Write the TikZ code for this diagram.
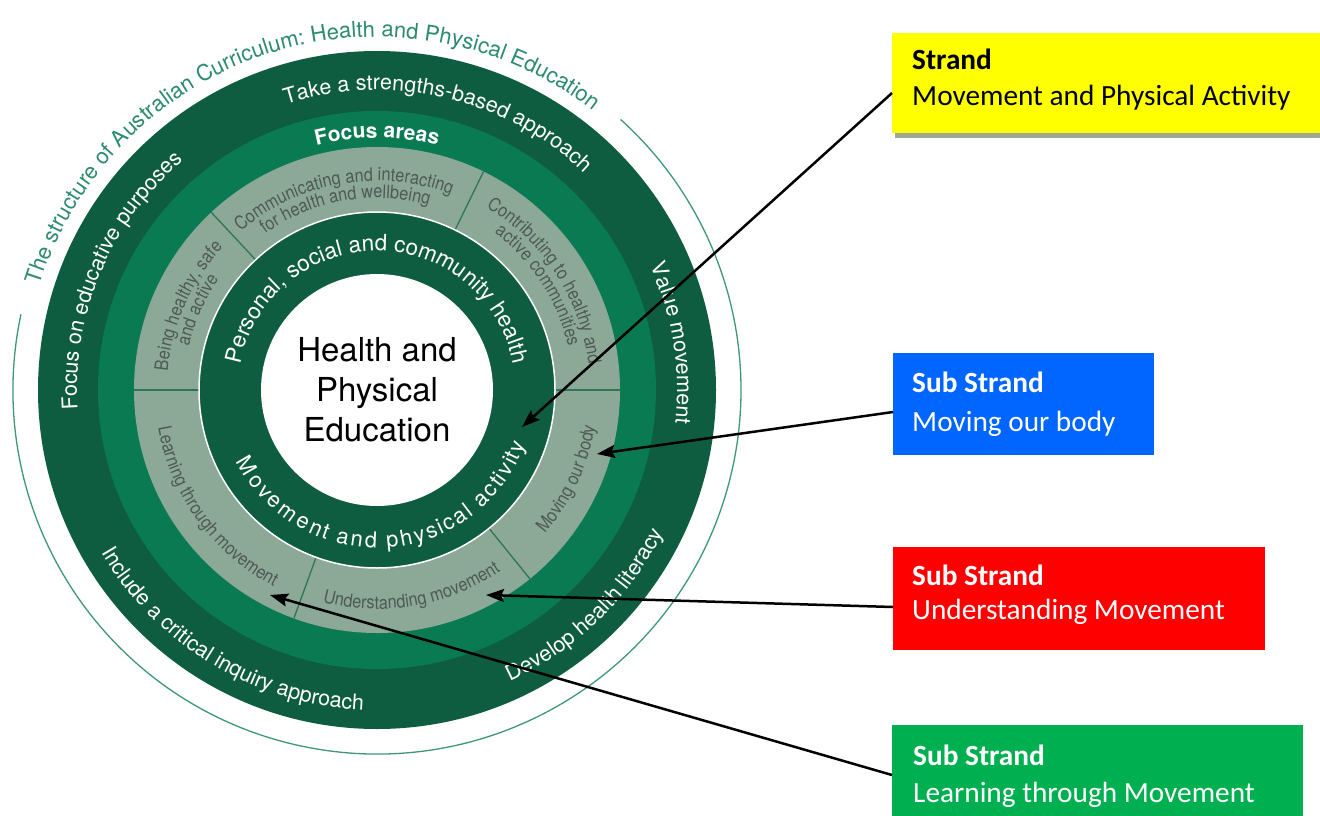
\documentclass[tikz,border=0pt]{standalone}
\usepackage{fontspec}
\setmainfont{TeX Gyre Heros}
\newfontfamily\boxfont{Carlito}
\newfontfamily\narrowfont[FakeStretch=0.88]{TeX Gyre Heros}
\usetikzlibrary{decorations.text,arrows.meta,calc}

\definecolor{darkg}{HTML}{0E5D41}
\definecolor{medg}{HTML}{0A7A53}
\definecolor{greyg}{HTML}{8CA897}
\definecolor{divcol}{HTML}{2F7558}
\definecolor{greytext}{HTML}{4E5A53}
\definecolor{titlecol}{HTML}{2C8C6B}
\definecolor{outlinecol}{HTML}{3E9878}
\definecolor{yellowc}{HTML}{FFFF00}
\definecolor{shadowc}{HTML}{9DA793}
\definecolor{bluec}{HTML}{0066FF}
\definecolor{redc}{HTML}{FF0000}
\definecolor{greenc}{HTML}{00B050}

\newcommand\fOuter{\fontsize{21.5}{26}\selectfont\color{white}}
\newcommand\fInner{\fontsize{22.5}{26}\selectfont\color{white}}
\newcommand\fFocus{\bfseries\fontsize{21}{25}\selectfont\color{white}}
\newcommand\fGrey{\narrowfont\fontsize{18.5}{20}\selectfont\color{greytext}}
\newcommand\fTitle{\fontsize{22}{26}\selectfont\color{titlecol}}

% radius (pt), centre angle, text  -- clockwise, letter tops outward
\newcommand\cwtext[3]{\path[decorate,decoration={text along path,text align=center,text={#3}}]
  ($(C)+({#2+120}:#1pt)$) arc[start angle={#2+120},end angle={#2-120},radius=#1pt];}
% counter-clockwise, letter tops toward the centre
\newcommand\ccwtext[3]{\path[decorate,decoration={text along path,text align=center,text={#3}}]
  ($(C)+({#2-120}:#1pt)$) arc[start angle={#2-120},end angle={#2+120},radius=#1pt];}

\begin{document}
\begin{tikzpicture}[x=1pt,y=1pt,
  arr/.style={-{Stealth[length=18pt,width=13pt,inset=3pt]}, line width=2.5pt, draw=black},
  boxshape/.style={rectangle, inner sep=0pt, outer sep=0pt, anchor=north west, draw=none},
  boxhead/.style={anchor=base west, inner sep=0pt, font=\boxfont\bfseries\fontsize{29.3}{34}\selectfont},
  boxbody/.style={anchor=base west, inner sep=0pt, font=\boxfont\fontsize{29.3}{34}\selectfont},
  divider/.style={draw=divcol, line width=1.3pt},
]
\useasboundingbox (0,0) rectangle (1320,-816);
\fill[white] (0,0) rectangle (1320,-816);
\coordinate (C) at (377,-390);

% rings
\fill[darkg] (C) circle[radius=339pt];
\fill[medg] (C) circle[radius=279pt];
\fill[greyg] (C) circle[radius=243pt];
\foreach \a in {0,64,133,180,250,309}
  \draw[divider] ($(C)+(\a:178pt)$) -- ($(C)+(\a:243pt)$);
\fill[darkg] (C) circle[radius=178pt];
\draw[white, line width=1.5pt] (C) circle[radius=178pt];
\fill[white] (C) circle[radius=116pt];
\draw[outlinecol, line width=1.3pt] ($(C)+(168:364pt)$) arc[start angle=168, end angle=408, radius=364pt];

% title along the outside
\cwtext{353}{107.5}{|\fTitle|The structure of Australian Curriculum: Health and Physical Education}

% outer dark ring
\cwtext{300}{77}{|\fOuter|Take a strengths-based approach}
\cwtext{300}{9}{|\fOuter|Value movement}
\cwtext{300}{157}{|\fOuter|Focus on educative purposes}
\ccwtext{320}{-46}{|\fOuter|Develop health literacy}
\ccwtext{320}{239}{|\fOuter|Include a critical inquiry approach}

% focus areas ring
\cwtext{252}{90}{|\fFocus|Focus areas}

% grey sectors
\cwtext{209}{100}{|\fGrey|Communicating and interacting}
\cwtext{192}{100}{|\fGrey|for health and wellbeing}
\cwtext{210}{156}{|\fGrey|Being healthy, safe}
\cwtext{193}{156}{|\fGrey|and active}
\cwtext{213}{33}{|\fGrey|Contributing to healthy and}
\cwtext{196}{33}{|\fGrey|active communities}
\ccwtext{222}{216}{|\fGrey|Learning through movement}
\ccwtext{219}{280}{|\fGrey|Understanding movement}
\ccwtext{221}{335}{|\fGrey|Moving our body}

% inner strands ring
\cwtext{139}{90}{|\fInner|Personal, social and community health}
\path[decorate,decoration={text effects along path, text={Movement and physical activity},
  text effects/.cd, text along path, fit text to path,
  characters={text=white, font=\fontsize{22}{26}\selectfont}}]
  ($(C)+(207:158pt)$) arc[start angle=207,end angle=340,radius=158pt];

% centre
\node[align=center, font=\fontsize{33}{40}\selectfont, text=black] (hpe) at (C) {Health and\\Physical\\Education};

% boxes
\node[boxshape, fill=shadowc, minimum width=425pt, minimum height=100pt] (ysh) at (895,-38) {};
\node[boxshape, fill=yellowc, minimum width=428pt, minimum height=100pt] (yb) at (892,-33) {};
\node[boxhead, text=black] (yh) at (912,-70) {Strand};
\node[boxbody, text=black] (yt) at (912,-105) {Movement and Physical Activity};

\node[boxshape, fill=bluec, minimum width=261pt, minimum height=102pt] (bb) at (893,-353) {};
\node[boxhead, text=white] (bh) at (912,-392) {Sub Strand};
\node[boxbody, text=white] (bt) at (912,-431) {Moving our body};

\node[boxshape, fill=redc, minimum width=372pt, minimum height=103pt] (rb) at (893,-547) {};
\node[boxhead, text=white] (rh) at (912,-585) {Sub Strand};
\node[boxbody, text=white] (rt) at (912,-619) {Understanding Movement};

\node[boxshape, fill=greenc, minimum width=411pt, minimum height=91pt] (gb) at (892,-725) {};
\node[boxhead, text=white] (gh) at (913,-765) {Sub Strand};
\node[boxbody, text=white] (gt) at (913,-802) {Learning through Movement};

% arrows
\coordinate (t1) at (522,-427);
\coordinate (t2) at (597,-454);
\coordinate (t3) at (486,-595);
\coordinate (t4) at (270,-595);
\draw[arr] ([yshift=-10pt]yb.west) -- (t1);
\draw[arr] ([yshift=-8pt]bb.west) -- (t2);
\draw[arr] ([yshift=-8.5pt]rb.west) -- (t3);
\draw[arr] ([yshift=-4.5pt]gb.west) -- (t4);
\end{tikzpicture}
\end{document}
